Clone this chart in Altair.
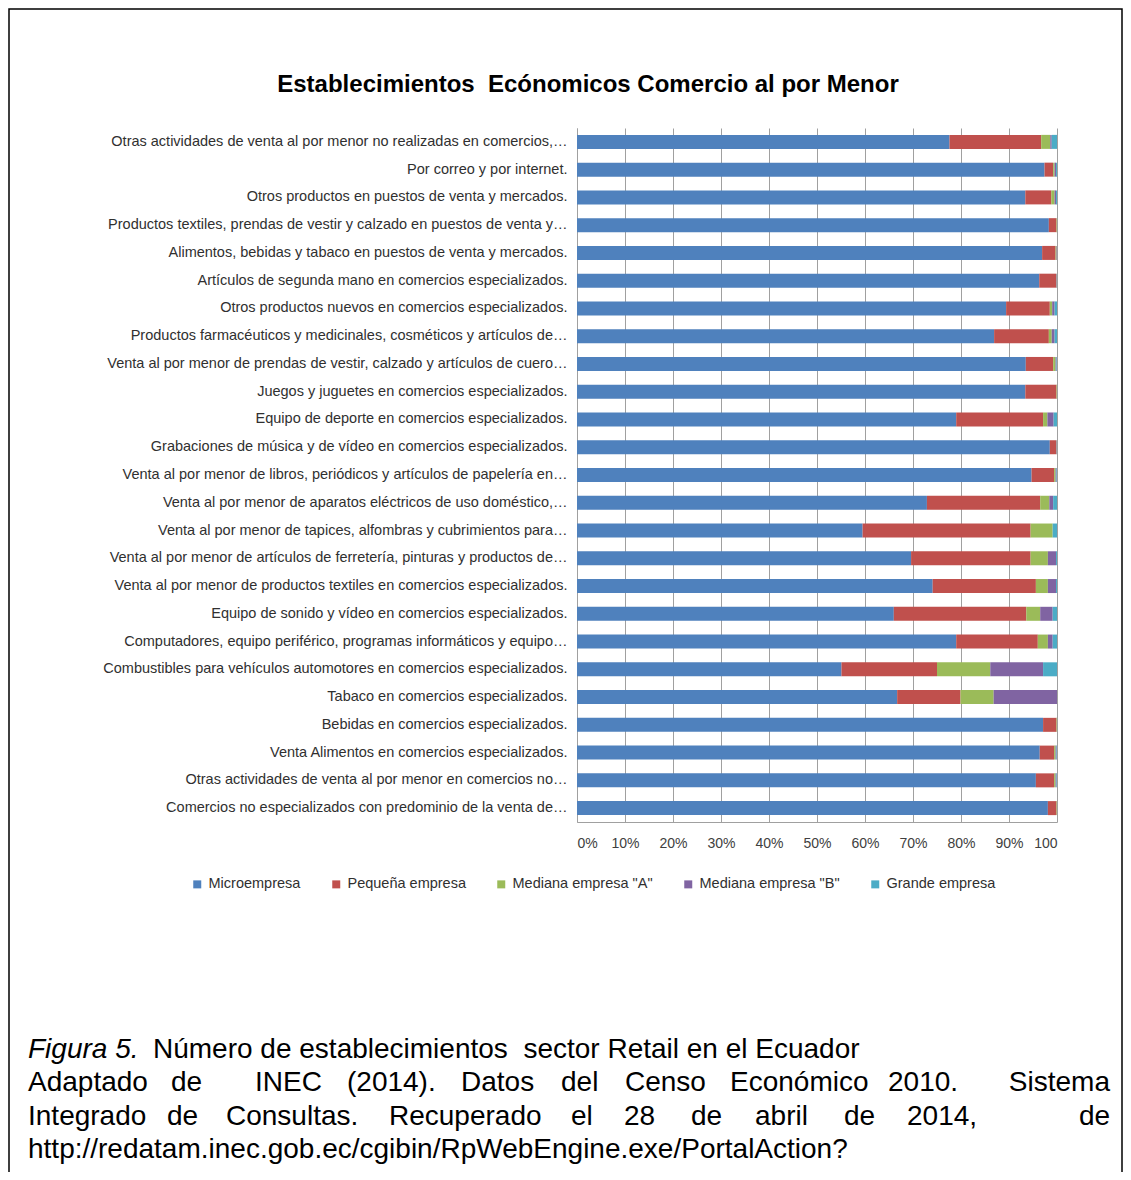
import altair as alt
import pandas as pd

categorias = [
    "Otras actividades de venta al por menor no realizadas en comercios,…",
    "Por correo y por internet.",
    "Otros productos en puestos de venta y mercados.",
    "Productos textiles, prendas de vestir y calzado en puestos de venta y…",
    "Alimentos, bebidas y tabaco en puestos de venta y mercados.",
    "Artículos de segunda mano en comercios especializados.",
    "Otros productos nuevos en comercios especializados.",
    "Productos farmacéuticos y medicinales, cosméticos y artículos de…",
    "Venta al por menor de prendas de vestir, calzado y artículos de cuero…",
    "Juegos y juguetes en comercios especializados.",
    "Equipo de deporte en comercios especializados.",
    "Grabaciones de música y de vídeo en comercios especializados.",
    "Venta al por menor de libros, periódicos y artículos de papelería en…",
    "Venta al por menor de aparatos eléctricos de uso doméstico,…",
    "Venta al por menor de tapices, alfombras y cubrimientos para…",
    "Venta al por menor de artículos de ferretería, pinturas y productos de…",
    "Venta al por menor de productos textiles en comercios especializados.",
    "Equipo de sonido y vídeo en comercios especializados.",
    "Computadores, equipo periférico, programas informáticos y equipo…",
    "Combustibles para vehículos automotores en comercios especializados.",
    "Tabaco en comercios especializados.",
    "Bebidas en comercios especializados.",
    "Venta Alimentos en comercios especializados.",
    "Otras actividades de venta al por menor en comercios no…",
    "Comercios no especializados con predominio de la venta de…",
]

series = ["Microempresa", "Pequeña empresa", 'Mediana empresa "A"',
          'Mediana empresa "B"', "Grande empresa"]

micro   = [77.6, 97.4, 93.4, 98.3, 96.9, 96.3, 89.4, 86.9, 93.5, 93.4, 79.0, 98.5, 94.7,
           72.9, 59.5, 69.6, 74.1, 66.0, 79.0, 55.1, 66.7, 97.1, 96.4, 95.6, 98.1]
pequena = [19.1, 1.8, 5.4, 1.6, 2.8, 3.5, 9.1, 11.4, 5.7, 6.5, 18.1, 1.3, 4.7,
           23.6, 35.0, 24.9, 21.5, 27.6, 17.0, 19.9, 13.2, 2.8, 3.0, 3.8, 1.8]
medA    = [1.9, 0.3, 0.7, 0.1, 0.2, 0.1, 0.5, 0.6, 0.5, 0.1, 0.9, 0.1, 0.3,
           1.9, 4.6, 3.6, 2.5, 2.9, 2.1, 11.1, 6.9, 0.1, 0.3, 0.3, 0.1]
medB    = [0.3, 0.3, 0.3, 0.0, 0.1, 0.1, 0.5, 0.6, 0.2, 0.0, 1.3, 0.1, 0.2,
           0.8, 0.0, 1.7, 1.7, 2.6, 1.0, 11.0, 13.2, 0.0, 0.2, 0.2, 0.0]
grande  = [1.1, 0.2, 0.2, 0.0, 0.0, 0.0, 0.5, 0.5, 0.1, 0.0, 0.7, 0.0, 0.1,
           0.8, 0.9, 0.2, 0.2, 0.9, 0.9, 2.9, 0.0, 0.0, 0.1, 0.1, 0.0]

colores = ["#4F81BD", "#C0504D", "#9BBB59", "#8064A2", "#4BACC6"]

titulo = "Establecimientos\u00a0 Ecónomicos Comercio al por Menor"
fig_label = "Figura 5."
linea1 = "Número de establecimientos\u00a0 sector Retail en el Ecuador"
linea2 = ["Adaptado", "de", "INEC", "(2014).", "Datos", "del", "Censo", "Económico", "2010.", "Sistema"]
linea3 = ["Integrado", "de", "Consultas.", "Recuperado", "el", "28", "de", "abril", "de", "2014,", "de"]
linea4 = "http://redatam.inec.gob.ec/cgibin/RpWebEngine.exe/PortalAction?"

# layout of the justified caption lines (pixel offsets from the plot's left edge)
pos2 = [-549, -406, -322, -230, -116, -16, 48, 153, 311]
pos3 = [-549, -410, -351, -188, -6, 47, 114, 178, 267, 330, 502]

valores = [micro, pequena, medA, medB, grande]
rows = []
for i, c in enumerate(categorias):
    for j, s in enumerate(series):
        rows.append({"cat": c, "serie": s, "orden": j, "valor": valores[j][i]})
df = pd.DataFrame(rows)

W, H = 480, 694
FONT = "Liberation Sans"

bars = alt.Chart(df).mark_bar(size=14).encode(
    y=alt.Y("cat:N", sort=categorias, title=None,
            scale=alt.Scale(paddingInner=0.5, paddingOuter=0.25),
            axis=alt.Axis(labelLimit=600, labelFontSize=14.5, labelColor="#303030",
                          labelFont=FONT, ticks=False, labelPadding=10,
                          domainColor="#a0a0a0", domainWidth=1)),
    x=alt.X("valor:Q", stack="normalize", title=None,
            scale=alt.Scale(domain=[0, 1], nice=False),
            axis=alt.Axis(values=[0, .1, .2, .3, .4, .5, .6, .7, .8, .9, 1.0],
                          labelExpr="datum.value >= 0.999 ? '100' : format(datum.value, '.0%')",
                          grid=True, gridColor="#a0a0a0", gridWidth=1,
                          domainColor="#a0a0a0", ticks=False, labelPadding=14,
                          labelFontSize=14, labelColor="#404040", labelFont=FONT)),
    color=alt.Color("serie:N", sort=series,
                    scale=alt.Scale(domain=series, range=colores),
                    legend=alt.Legend(orient="none", direction="horizontal",
                                      legendX=-387, legendY=749, title=None,
                                      symbolType="square", symbolSize=64,
                                      symbolStrokeWidth=0, labelFontSize=14.5,
                                      labelFont=FONT, labelColor="#303030",
                                      columnPadding=28, labelOffset=4)),
    order=alt.Order("orden:Q"),
)

one = pd.DataFrame({"k": [0]})

frame = alt.Chart(one).mark_rect(fill="transparent", stroke="#000000", strokeWidth=1.5).encode(
    x=alt.value(-568), x2=alt.value(545), y=alt.value(-119), y2=alt.value(1200))

title_mark = alt.Chart(one).mark_text(font=FONT, fontSize=24, fontWeight="bold",
                                      color="#000000", align="center", baseline="middle").encode(
    x=alt.value(11), y=alt.value(-43), text=alt.value(titulo))

CAP = 28
cap_style = dict(font=FONT, fontSize=CAP, color="#000000", baseline="middle", align="left")

cap_fig = alt.Chart(one).mark_text(fontStyle="italic", **cap_style).encode(
    x=alt.value(-549), y=alt.value(922), text=alt.value(fig_label))
cap_l1 = alt.Chart(one).mark_text(**cap_style).encode(
    x=alt.value(-424), y=alt.value(922), text=alt.value(linea1))

ident = alt.Scale(domain=[0, W], range=[0, W])
df2 = pd.DataFrame({"w": linea2[:-1], "px": pos2})
cap_l2 = alt.Chart(df2).mark_text(**cap_style).encode(
    x=alt.X("px:Q", scale=ident, axis=None), y=alt.value(955), text="w:N")
cap_l2b = alt.Chart(one).mark_text(**dict(cap_style, align="right")).encode(
    x=alt.value(533), y=alt.value(955), text=alt.value(linea2[-1]))

df3 = pd.DataFrame({"w": linea3, "px": pos3})
cap_l3 = alt.Chart(df3).mark_text(**cap_style).encode(
    x=alt.X("px:Q", scale=ident, axis=None), y=alt.value(989), text="w:N")
cap_l4 = alt.Chart(one).mark_text(**cap_style).encode(
    x=alt.value(-549), y=alt.value(1022), text=alt.value(linea4))

chart = alt.layer(frame, bars, title_mark, cap_fig, cap_l1, cap_l2, cap_l2b, cap_l3, cap_l4).resolve_scale(
    x="independent"
).properties(
    width=W, height=H,
    padding={"left": 569, "top": 120, "right": 66, "bottom": 350},
    autosize=alt.AutoSizeParams(type="none"),
    background="white",
).configure_view(stroke=None)

chart.save("out.html", embed_options={"renderer": "svg", "actions": False})
